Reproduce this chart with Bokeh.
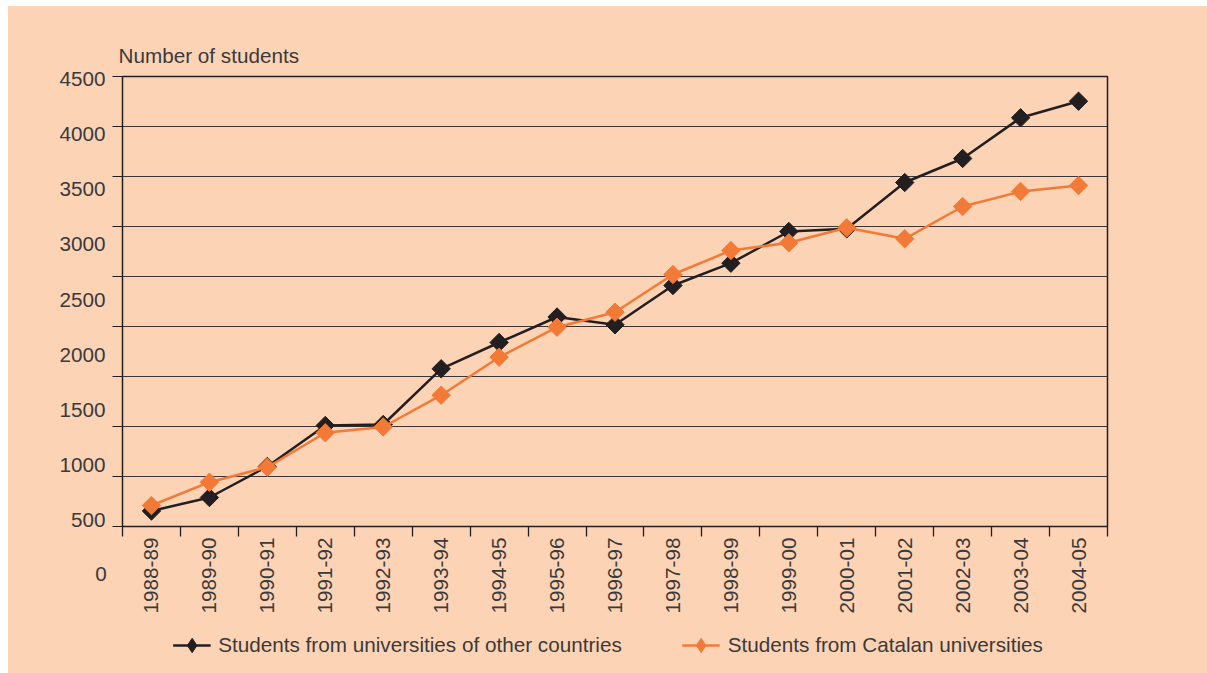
import math
from bokeh.plotting import figure
from bokeh.layouts import row, column
from bokeh.models import (Range1d, FixedTicker, Legend, LegendItem,
                          ColumnDataSource, Spacer)
from bokeh.embed import file_html
from bokeh.resources import INLINE

# ---------------- data ----------------
years = ["1988-89", "1989-90", "1990-91", "1991-92", "1992-93", "1993-94",
         "1994-95", "1995-96", "1996-97", "1997-98", "1998-99", "1999-00",
         "2000-01", "2001-02", "2002-03", "2003-04", "2004-05"]
other_countries = [155, 290, 600, 1010, 1020, 1577, 1840, 2095, 2017, 2410,
                   2633, 2950, 2977, 3440, 3680, 4087, 4253]
catalan = [210, 443, 593, 937, 995, 1313, 1693, 1993, 2143, 2520,
           2760, 2837, 2987, 2877, 3200, 3350, 3410]
y_ticks = [0, 500, 1000, 1500, 2000, 2500, 3000, 3500, 4000, 4500]
series_names = ["Students from universities of other countries",
                "Students from Catalan universities"]

# ---------------- style ----------------
BG = "#FDD3B6"
BLACK = "#231F20"
ORANGE = "#F37A36"
TEXT = "#3a3a3a"
FONT = "Liberation Sans"
FS = "20.7px"


def plain(fig):
    fig.background_fill_color = BG
    fig.border_fill_color = BG
    fig.outline_line_color = None
    fig.grid.grid_line_color = None


def text_style(axis):
    axis.major_label_text_font = FONT
    axis.major_label_text_font_size = FS
    axis.major_label_text_color = TEXT


x_pos = [i + 0.5 for i in range(len(years))]
src = ColumnDataSource(dict(x=x_pos, other=other_countries, cat=catalan))

# ---------------- main plot ----------------
p = figure(width=1095, height=610,
           x_range=Range1d(0, len(years)), y_range=Range1d(0, 4500),
           output_backend="svg", toolbar_location=None,
           background_fill_color=BG, border_fill_color=BG,
           min_border_left=10, min_border_right=100,
           min_border_top=70, min_border_bottom=90,
           outline_line_color=BLACK, outline_line_width=1.5)

p.title.text = "Number of students"
p.title.text_font = FONT
p.title.text_font_size = FS
p.title.text_font_style = "normal"
p.title.text_color = TEXT
p.title.align = "left"
p.title.offset = -4
p.title.standoff = 20

p.xgrid.grid_line_color = None
p.ygrid.ticker = FixedTicker(ticks=y_ticks)
p.ygrid.grid_line_color = "#3e3434"
p.ygrid.grid_line_width = 1.2

# x axis: labels at category centres, tick marks at category boundaries
xa = p.xaxis[0]
xa.ticker = FixedTicker(ticks=x_pos, minor_ticks=list(range(len(years) + 1)))
xa.major_label_overrides = {x: y for x, y in zip(x_pos, years)}
xa.major_label_orientation = math.pi / 2
xa.major_tick_line_color = None
xa.minor_tick_line_color = BLACK
xa.minor_tick_line_width = 1.3
xa.minor_tick_out = 10
xa.minor_tick_in = 0
xa.axis_line_color = None
xa.major_label_standoff = 1
text_style(xa)

# y axis of the plot: only tick marks at the grid values
ya = p.yaxis[0]
ya.ticker = FixedTicker(ticks=y_ticks)
ya.major_tick_out = 10
ya.major_tick_in = 0
ya.major_tick_line_color = BLACK
ya.major_tick_line_width = 1.2
ya.minor_tick_line_color = None
ya.axis_line_color = None
ya.major_label_overrides = {t: "" for t in y_ticks}
ya.major_label_standoff = 0

p.line("x", "other", source=src, line_color=BLACK, line_width=2.5)
p.scatter("x", "other", source=src, marker="square", angle=math.pi / 4,
          size=13, fill_color=BLACK, line_color=BLACK)
p.line("x", "cat", source=src, line_color=ORANGE, line_width=2.5)
p.scatter("x", "cat", source=src, marker="square", angle=math.pi / 4,
          size=13, fill_color=ORANGE, line_color=ORANGE)

# ---------------- y tick labels (offset as in the original) ----------------
q_left = figure(width=104, height=610, x_range=Range1d(0, 1),
                y_range=Range1d(445, 4521), output_backend="svg",
                toolbar_location=None, min_border_left=82, min_border_right=0,
                min_border_top=70, min_border_bottom=90)
plain(q_left)
qa = q_left.yaxis[0]
qa.ticker = FixedTicker(ticks=y_ticks[1:])
qa.major_tick_line_color = None
qa.minor_tick_line_color = None
qa.axis_line_color = None
qa.major_label_standoff = -21
text_style(qa)
# the lowest label "0" sits below the others, under the plot box
qx = q_left.xaxis[0]
qx.ticker = FixedTicker(ticks=[0.477])
qx.major_label_overrides = {0.477: str(y_ticks[0])}
qx.major_tick_line_color = None
qx.minor_tick_line_color = None
qx.axis_line_color = None
qx.major_label_standoff = 34
text_style(qx)

# ---------------- legend strip ----------------
q_leg = figure(width=1199, height=57, x_range=Range1d(0, 1), y_range=Range1d(0, 1),
               output_backend="svg", toolbar_location=None, min_border=0)
plain(q_leg)
q_leg.axis.visible = False
g1 = q_leg.line("x", "other", source=src, line_color=BLACK, line_width=2.5)
d1 = q_leg.scatter("x", "other", source=src, marker="diamond", size=14,
                   fill_color=BLACK, line_color=BLACK)
g2 = q_leg.line("x", "cat", source=src, line_color=ORANGE, line_width=2.5)
d2 = q_leg.scatter("x", "cat", source=src, marker="diamond", size=14,
                   fill_color=ORANGE, line_color=ORANGE)
legend = Legend(items=[LegendItem(label=series_names[0], renderers=[g1, d1]),
                       LegendItem(label=series_names[1], renderers=[g2, d2])],
                orientation="horizontal", location="center",
                background_fill_alpha=0, border_line_color=None,
                label_text_font=FONT, label_text_font_size=FS,
                label_text_color=TEXT, glyph_width=38, glyph_height=36,
                label_standoff=8, spacing=60, margin=0, padding=0)
q_leg.add_layout(legend)

inner = column(row(q_left, p), q_leg, styles={"background-color": BG})
layout = row(Spacer(width=8), column(Spacer(height=6), inner))
open("out.html", "w").write(file_html(layout, INLINE))
